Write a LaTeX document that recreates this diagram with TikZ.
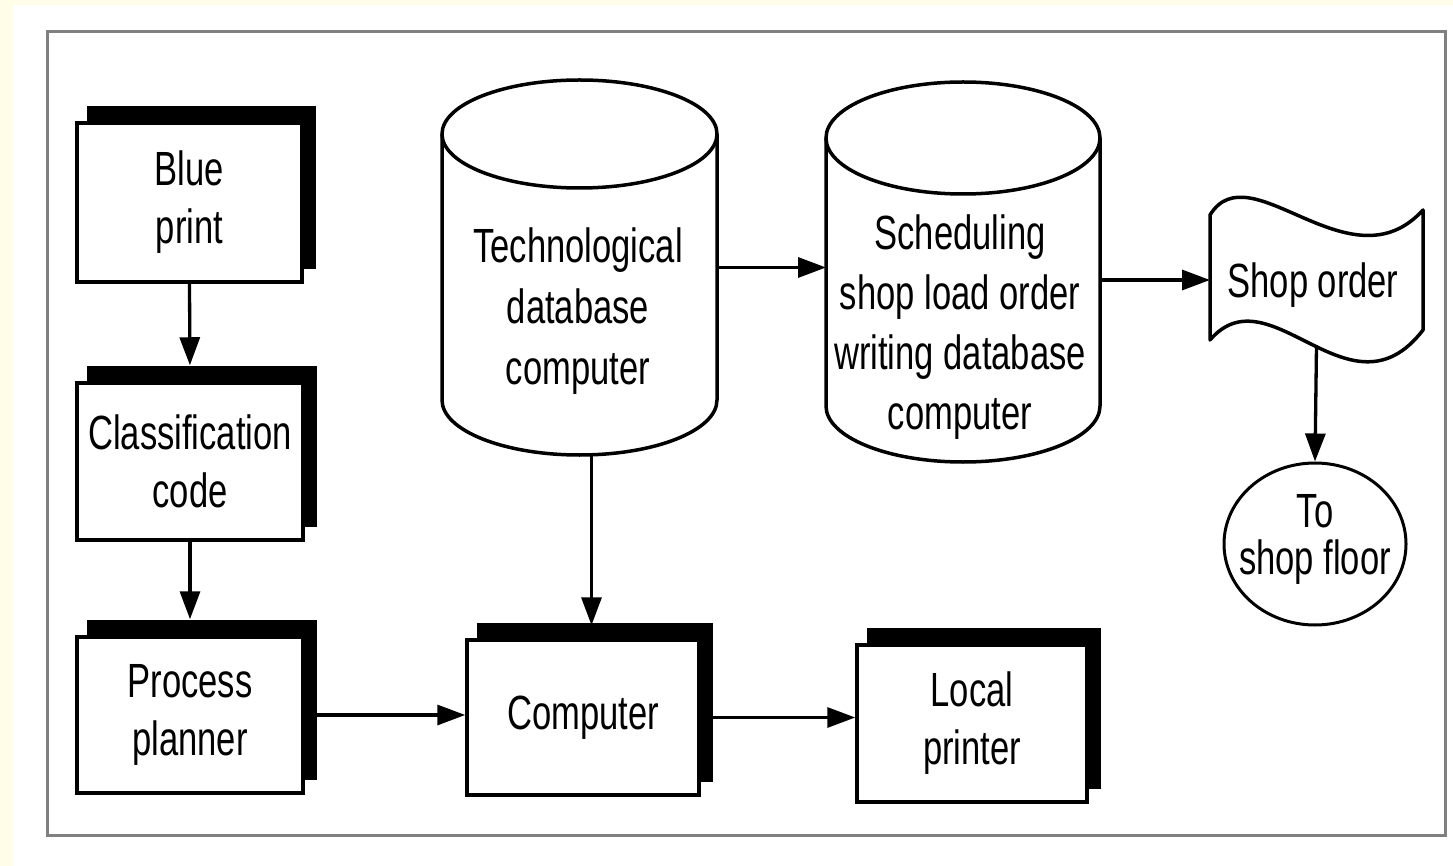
\documentclass[tikz,border=0pt]{standalone}
\usepackage{fontspec}
\setmainfont[FakeStretch=0.72]{Liberation Sans}
\usetikzlibrary{arrows.meta,shadows,shapes.geometric}
\definecolor{paper}{RGB}{255,253,231}
\definecolor{framegray}{RGB}{128,128,128}
\tikzset{
  txt/.style={font=\fontsize{48}{58}\selectfont, align=center, inner sep=0pt},
  pbox/.style={txt, draw, line width=3.5pt, fill=white,
    copy shadow={shadow xshift=12pt, shadow yshift=15pt, fill=black, draw=black, line width=3.5pt}},
  cylarea/.style={inner sep=0pt, outer sep=0pt},
  outl/.style={line width=3.5pt, line join=round},
  arr/.style={line width=3.3pt, -{Triangle[length=28pt,width=20pt]}},
}
\begin{document}
\begin{tikzpicture}[x=1pt, y=-1pt]
  \useasboundingbox (0,0) rectangle (1453,866);
  \fill[paper] (0,0) rectangle (1453,866);
  \fill[white] (13,5) rectangle (1453,866);
  \draw[framegray, line width=3pt] (47,32) rectangle (1445,835);

  % process boxes with raised black backing
  \node[pbox, minimum width=225pt, minimum height=159pt] (bp)   at (189.5,202.5) {Blue\\print};
  \node[pbox, minimum width=226pt, minimum height=157pt] (cc)   at (190,461.5)   {Classification\\code};
  \node[pbox, minimum width=226pt, minimum height=156pt] (pp)   at (190,715)     {Process\\planner};
  \node[pbox, minimum width=232pt, minimum height=155pt] (comp) at (583,717.5)   {Computer};
  \node[pbox, minimum width=230pt, minimum height=157pt] (lp)   at (972,723.5)   {Local\\printer};

  % database cylinders
  \node[cylarea, minimum width=275pt, minimum height=375pt] (cyl1) at (579.5,267.5) {};
  \draw[outl] ([yshift=-54pt]cyl1.north) ellipse [x radius=137.5pt, y radius=54pt];
  \draw[outl] ([yshift=-54pt]cyl1.north west) -- ([yshift=55pt]cyl1.south west)
    arc[start angle=180, end angle=360, x radius=137.5pt, y radius=55pt]
    -- ([yshift=-54pt]cyl1.north east);
  \node[txt, font=\fontsize{48}{61}\selectfont] (cyl1txt) at (578,311) {Technological\\database\\computer};

  \node[cylarea, minimum width=274pt, minimum height=380pt] (cyl2) at (963,272) {};
  \draw[outl] ([yshift=-56pt]cyl2.north) ellipse [x radius=137pt, y radius=56pt];
  \draw[outl] ([yshift=-56pt]cyl2.north west) -- ([yshift=56pt]cyl2.south west)
    arc[start angle=180, end angle=360, x radius=137pt, y radius=56pt]
    -- ([yshift=-56pt]cyl2.north east);
  \node[txt, font=\fontsize{48}{60}\selectfont] (cyl2txt) at (960,327) {Scheduling\\shop load order\\writing database\\computer};

  % punched-tape document
  \node[cylarea, minimum width=213pt, minimum height=130pt] (so) at (1316.5,280) {};
  \draw[outl] (1210,215) .. controls (1250,150) and (1350,290) .. (1423,210)
    -- (1423,330) .. controls (1350,425) and (1270,270) .. (1210,340) -- cycle;
  \node[txt] (sotxt) at (1313,285) {Shop order};

  % terminal
  \node[draw, ellipse, line width=3pt, inner sep=0pt,
        minimum width=182pt, minimum height=162pt] (floor) at (1315,544) {};
  \node[txt, font=\fontsize{48}{47}\selectfont] (floortxt) at (1315,539) {To\\shop floor};

  % connectors
  \draw[arr, shorten >=16pt] (bp.south) -- (cc.north);
  \draw[arr, shorten >=16pt] (cc.south) -- (pp.north);
  \draw[arr] ([xshift=12pt]pp.east) -- (pp.east -| comp.west);
  \draw[arr, shorten >=13pt] ([xshift=12pt]cyl1.south) -- ([xshift=12pt]cyl1.south |- comp.north);
  \draw[arr] ([xshift=12pt]comp.east) -- (comp.east -| lp.west);
  \draw[arr] (cyl1.east) -- (cyl1.east -| cyl2.west);
  \draw[arr] (cyl2.east |- so.west) -- (so.west);
  \draw[arr] (so.south) -- (floor.north);
\end{tikzpicture}
\end{document}
